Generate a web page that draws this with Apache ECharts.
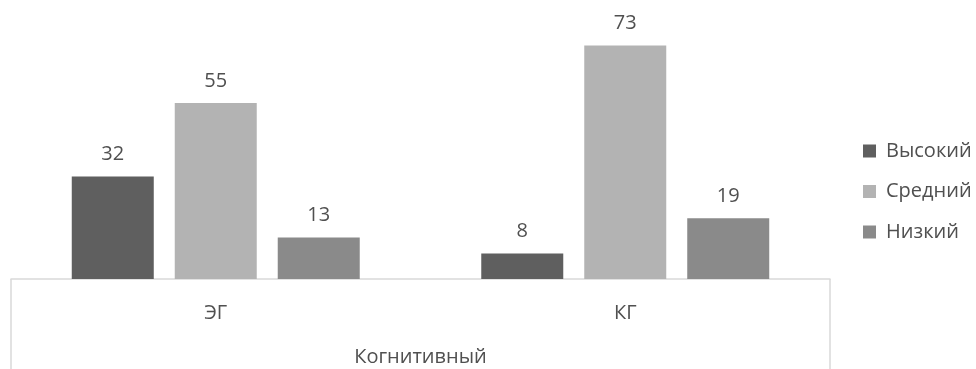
<!DOCTYPE html>
<html>
<head>
<meta charset="utf-8">
<script src="https://cdn.jsdelivr.net/npm/echarts@6/dist/echarts.min.js"></script>
<style>
  html, body { margin: 0; padding: 0; background: #fff; }
  #chart { width: 976px; height: 369px; }
</style>
</head>
<body>
<div id="chart"></div>
<script>
// Groups on the x axis and the outer group label beneath them
const groups = ['ЭГ', 'КГ'];
const outerGroup = ['Когнитивный'];

// Level names (series) and their values per group
const seriesNames = ['Высокий', 'Средний', 'Низкий'];
const highValues = [32, 8];
const middleValues = [55, 73];
const lowValues = [13, 19];

const seriesColors = ['#5f5f5f', '#b3b3b3', '#8a8a8a'];
const textColor = '#505050';
const frameColor = '#d9d9d9';
const fontFamily = '"Open Sans", "Noto Sans", sans-serif';

const chart = echarts.init(document.getElementById('chart'));

function barSeries(name, values, color) {
  return {
    name: name,
    type: 'bar',
    data: values,
    barWidth: 82,
    barGap: '25.6%',
    itemStyle: { color: color },
    label: {
      show: true,
      position: 'top',
      distance: 11,
      color: textColor,
      fontSize: 20,
      lineHeight: 22,
      fontFamily: fontFamily
    }
  };
}

chart.setOption({
  animation: false,
  backgroundColor: '#ffffff',
  grid: { left: 11, right: 146, top: 23, bottom: 90 },
  legend: {
    orient: 'vertical',
    left: 858,
    top: 135,
    itemWidth: 13,
    itemHeight: 13,
    itemGap: 18.5,
    icon: 'rect',
    data: seriesNames,
    textStyle: { color: textColor, fontSize: 20, lineHeight: 22, padding: [0, 0, 0, 5], fontFamily: fontFamily }
  },
  xAxis: [
    {
      type: 'category',
      data: groups,
      axisLine: { show: true, lineStyle: { color: frameColor, width: 1.5 } },
      axisTick: { show: false },
      axisLabel: { color: textColor, fontSize: 20, lineHeight: 24, margin: 22, fontFamily: fontFamily }
    },
    {
      type: 'category',
      data: outerGroup,
      position: 'bottom',
      axisLine: { show: false },
      axisTick: { show: false },
      axisLabel: { color: textColor, fontSize: 20, lineHeight: 24, margin: 66, fontFamily: fontFamily }
    }
  ],
  yAxis: {
    type: 'value',
    min: 0,
    max: 80,
    show: false,
    splitLine: { show: false }
  },
  series: [
    barSeries(seriesNames[0], highValues, seriesColors[0]),
    barSeries(seriesNames[1], middleValues, seriesColors[1]),
    barSeries(seriesNames[2], lowValues, seriesColors[2])
  ]
});

// Frame around the category labels: vertical sides dropping from the axis line
const grid = chart.getModel().getComponent('grid').coordinateSystem.getRect();
const baseY = grid.y + grid.height;
const h = chart.getHeight();
chart.setOption({
  graphic: [
    { type: 'line', shape: { x1: grid.x, y1: baseY, x2: grid.x, y2: h }, style: { stroke: frameColor, lineWidth: 1.5 } },
    { type: 'line', shape: { x1: grid.x + grid.width, y1: baseY, x2: grid.x + grid.width, y2: h }, style: { stroke: frameColor, lineWidth: 1.5 } }
  ]
});
</script>
</body>
</html>
